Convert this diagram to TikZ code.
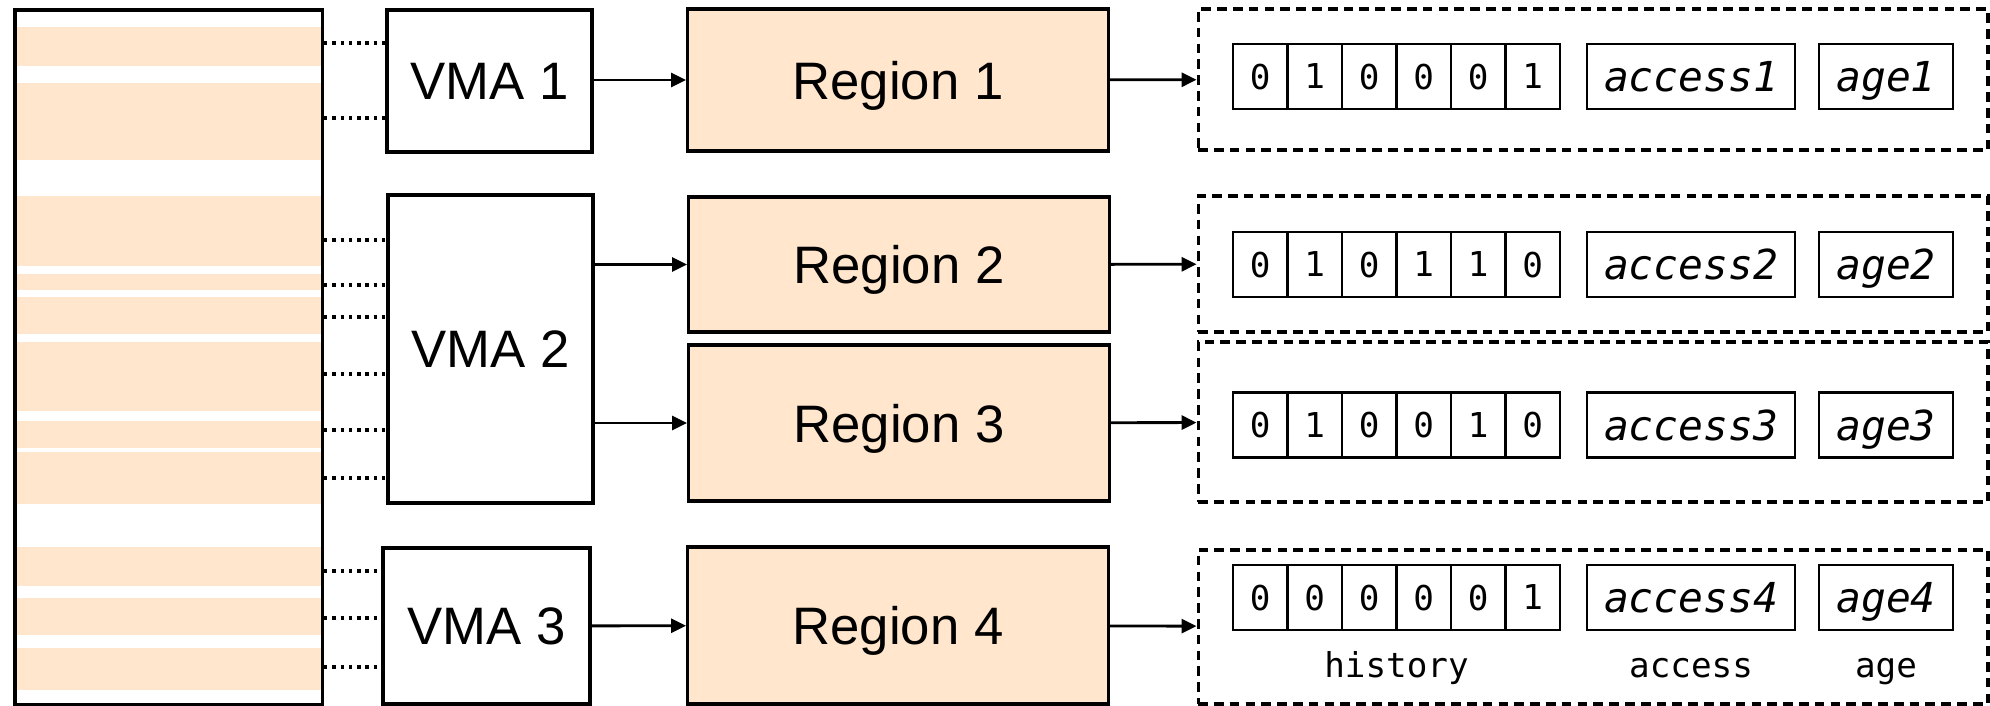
\documentclass[tikz,border=0pt]{standalone}
\usepackage{fontspec}
\setmainfont{Liberation Sans}
\setmonofont{DejaVu Sans Mono}
\usetikzlibrary{arrows.meta}
\definecolor{regionfill}{HTML}{FFE6CC}

\begin{document}
\begin{tikzpicture}[x=0.02cm, y=-0.02cm,
    box/.style={draw, line width=1.8pt, inner sep=0pt, text depth=0pt,
      font=\fontsize{30}{35}\selectfont},
    vma/.style={box, fill=white, minimum width=4.1cm},
    region/.style={box, fill=regionfill, minimum width=8.42cm},
    meta/.style={draw, line width=1.8pt, dash pattern=on 5.5pt off 3.5pt,
      minimum width=15.8cm, inner sep=0pt},
    bit/.style={draw, line width=1.2pt, minimum width=1.09cm, minimum height=1.3cm,
      inner sep=0pt, text depth=0pt, font=\ttfamily\fontsize{19.5}{22}\selectfont},
    field/.style={bit, font=\ttfamily\itshape\fontsize{23.5}{27}\selectfont},
    caption/.style={anchor=base, font=\ttfamily\fontsize{19.5}{22}\selectfont},
    link/.style={line width=1.9pt, dash pattern=on 1.9pt off 2.8pt},
    flow/.style={->, line width=1.6pt},
    >={Triangle[length=8.5pt, width=8pt]}]
  \useasboundingbox (0,0) rectangle (1990,706);

  % address space
  \foreach \top/\bot in {27/66, 83/160, 196/266, 274/290, 297/334, 342/411,
      421/448, 452/504, 547/586, 598/635, 648/690}
    \fill[regionfill] (15,\top) rectangle (322,\bot);
  \node[draw, line width=1.9pt, minimum width=6.15cm, minimum height=13.89cm,
    inner sep=0pt] (mem) at (168.75,357.25) {};

  % VMAs
  \node[vma, minimum height=2.84cm] (vma1) at (489.5,81) {VMA 1};
  \node[vma, minimum height=6.16cm] (vma2) at (490.5,349) {VMA 2};
  \node[vma, minimum width=4.14cm, minimum height=3.12cm] (vma3) at (486.5,626) {VMA 3};

  \foreach \y in {43,118}
    \draw[link] (mem.east |- 0,\y) -- (vma1.west |- 0,\y);
  \foreach \y in {240,285,317,374,430,478}
    \draw[link] (mem.east |- 0,\y) -- (vma2.west |- 0,\y);
  \foreach \y in {571,618,667}
    \draw[link] (mem.east |- 0,\y) -- (vma3.west |- 0,\y);

  % regions
  \node[region, minimum height=2.84cm] (reg1) at (898,80) {Region 1};
  \node[region, minimum height=2.7cm] (reg2) at (899,264.5) {Region 2};
  \node[region, minimum height=3.12cm] (reg3) at (899,423) {Region 3};
  \node[region, minimum height=3.14cm] (reg4) at (898,625.5) {Region 4};

  % per-region metadata
  \node[meta, minimum height=2.82cm] (meta1) at (1593,79.5) {};
  \node[meta, minimum height=2.72cm] (meta2) at (1593,264) {};
  \node[meta, minimum height=3.2cm] (meta3) at (1593,422) {};
  \node[meta, minimum height=3.08cm] (meta4) at (1593,627) {};

  \foreach \row/\y/\bits in {1/76.5/{0,1,0,0,0,1}, 2/264.5/{0,1,0,1,1,0},
      3/425/{0,1,0,0,1,0}, 4/597.5/{0,0,0,0,0,1}} {
    \foreach \b [count=\i] in \bits
      \node[bit] (bit\row-\i) at ({1233+54.5*(\i-0.5)},\y) {\b};
    \node[field, minimum width=4.16cm] (acc\row) at (1691,\y) {access\row};
    \node[field, minimum width=2.68cm] (age\row) at (1886,\y) {age\row};
  }
  \node[caption] (histlab) at (1396.5,677) {history};
  \node[caption] (acclab) at (1691,677) {access};
  \node[caption] (agelab) at (1886,677) {age};

  \draw[flow] (vma1.east |- reg1) -- (reg1.west);
  \draw[flow] (vma2.east |- reg2) -- (reg2.west);
  \draw[flow] (vma2.east |- reg3) -- (reg3.west);
  \draw[flow] (vma3) -- (reg4);
  \foreach \i in {1,...,4}
    \draw[flow] (reg\i) -- (meta\i);
\end{tikzpicture}
\end{document}
